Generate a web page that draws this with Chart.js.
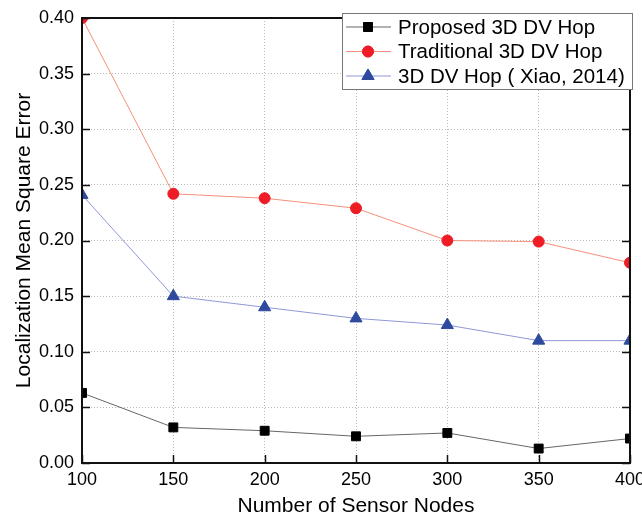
<!DOCTYPE html>
<html>
<head>
<meta charset="utf-8">
<script src="https://cdn.jsdelivr.net/npm/chart.js@4.4.0/dist/chart.umd.min.js"></script>
<style>
  html, body { margin: 0; padding: 0; background: #fff; }
  #wrap { width: 642px; height: 516px; }
</style>
</head>
<body>
<div id="wrap"><canvas id="errChart" width="642" height="516"></canvas></div>
<script>
// data
const nodes = [100, 150, 200, 250, 300, 350, 400];
const proposed = [0.063, 0.032, 0.029, 0.024, 0.027, 0.013, 0.022];
const traditional = [0.400, 0.242, 0.238, 0.229, 0.200, 0.199, 0.180];
const xiao = [0.241, 0.150, 0.140, 0.130, 0.124, 0.110, 0.110];
const seriesNames = ['Proposed 3D DV Hop', 'Traditional 3D DV Hop', '3D DV Hop ( Xiao, 2014)'];

const toPts = arr => arr.map((v, i) => ({ x: nodes[i], y: v }));
const FONT = '"Liberation Sans", Arial, sans-serif';

// frame, inward ticks and the boxed legend
const framePlugin = {
    id: 'frame',
    afterDraw(chart) {
        const { ctx, chartArea: a, scales } = chart;
        ctx.save();
        ctx.strokeStyle = '#111';
        ctx.lineWidth = 1.5;
        ctx.beginPath();
        scales.x.ticks.forEach(t => {
            const px = Math.round(scales.x.getPixelForValue(t.value)) + 0.5;
            ctx.moveTo(px, a.bottom); ctx.lineTo(px, a.bottom - 8);
        });
        scales.y.ticks.forEach(t => {
            const py = Math.round(scales.y.getPixelForValue(t.value)) + 0.5;
            ctx.moveTo(a.left, py); ctx.lineTo(a.left + 8, py);
            ctx.moveTo(a.right, py); ctx.lineTo(a.right - 8, py);
        });
        ctx.stroke();
        ctx.lineWidth = 2;
        ctx.strokeRect(a.left, a.top, a.right - a.left, a.bottom - a.top);

        // legend
        const bx = 342, by = 13, bw = a.right - bx + 2, bh = 76;
        ctx.fillStyle = '#fff';
        ctx.fillRect(bx, by, bw, bh);
        ctx.strokeStyle = '#777';
        ctx.lineWidth = 1;
        ctx.strokeRect(bx + 0.5, by + 0.5, bw, bh);
        ctx.font = '20.5px ' + FONT;
        ctx.textBaseline = 'middle';
        chart.data.datasets.forEach((ds, i) => {
            const cy = by + 14 + i * 24.5;
            ctx.strokeStyle = ds.borderColor;
            ctx.lineWidth = ds.borderWidth;
            ctx.beginPath();
            ctx.moveTo(bx + 4, cy); ctx.lineTo(bx + 49, cy);
            ctx.stroke();
            Chart.helpers.drawPoint(ctx, {
                pointStyle: ds.pointStyle, radius: ds.pointRadius, rotation: 0, borderWidth: 1
            }, bx + 26, cy);
            ctx.fillStyle = ds.pointBackgroundColor;
            ctx.strokeStyle = ds.pointBorderColor;
            ctx.fill();
            ctx.stroke();
            ctx.fillStyle = '#000';
            ctx.fillText(ds.label, bx + 56, cy + 1);
        });
        ctx.restore();
    }
};

const ctx = document.getElementById('errChart').getContext('2d');
const errChart = new Chart(ctx, {
    type: 'line',
    data: {
        datasets: [{
            label: seriesNames[0],
            data: toPts(proposed),
            borderColor: '#666666',
            borderWidth: 1,
            pointStyle: 'rect',
            pointRadius: 6.3,
            pointBackgroundColor: '#000000',
            pointBorderColor: '#000000',
            pointBorderWidth: 1
        }, {
            label: seriesNames[1],
            data: toPts(traditional),
            borderColor: '#f59078',
            borderWidth: 1,
            pointStyle: 'circle',
            pointRadius: 5.5,
            pointBackgroundColor: '#ee1c24',
            pointBorderColor: '#ee1c24',
            pointBorderWidth: 1
        }, {
            label: seriesNames[2],
            data: toPts(xiao),
            borderColor: '#8f97d8',
            borderWidth: 1,
            pointStyle: 'triangle',
            pointRadius: 7,
            pointBackgroundColor: '#2e4a9e',
            pointBorderColor: '#2e4a9e',
            pointBorderWidth: 1
        }]
    },
    options: {
        responsive: false,
        animation: false,
        layout: {
            autoPadding: false,
            padding: { top: 18, right: 12, left: 0, bottom: 0 }
        },
        scales: {
            x: {
                type: 'linear',
                min: 100,
                max: 400,
                afterFit: s => {
                    s.height = 53;
                    s.paddingLeft = 0;
                    s.paddingRight = 0;
                },
                ticks: {
                    stepSize: 50,
                    color: '#000',
                    padding: 6,
                    font: { family: FONT, size: 18 }
                },
                grid: { color: '#b8b8b8', drawTicks: false, lineWidth: 1 },
                border: { display: false, dash: [1, 2] },
                title: {
                    display: true,
                    text: 'Number of Sensor Nodes',
                    color: '#000',
                    padding: { top: 0, bottom: -1 },
                    font: { family: FONT, size: 21, lineHeight: 1 }
                }
            },
            y: {
                min: 0,
                max: 0.40,
                afterFit: s => {
                    s.width = 82;
                    s.paddingTop = 0;
                    s.paddingBottom = 0;
                },
                ticks: {
                    stepSize: 0.05,
                    color: '#000',
                    padding: 8,
                    callback: v => v.toFixed(2),
                    font: { family: FONT, size: 18 }
                },
                grid: { color: '#b8b8b8', drawTicks: false, lineWidth: 1 },
                border: { display: false, dash: [1, 2] },
                title: {
                    display: true,
                    text: 'Localization Mean Square Error',
                    color: '#000',
                    padding: { top: 14, bottom: 0 },
                    font: { family: FONT, size: 21, lineHeight: 1 }
                }
            }
        },
        plugins: {
            legend: { display: false },
            tooltip: { enabled: false }
        }
    },
    plugins: [framePlugin]
});
</script>
</body>
</html>
